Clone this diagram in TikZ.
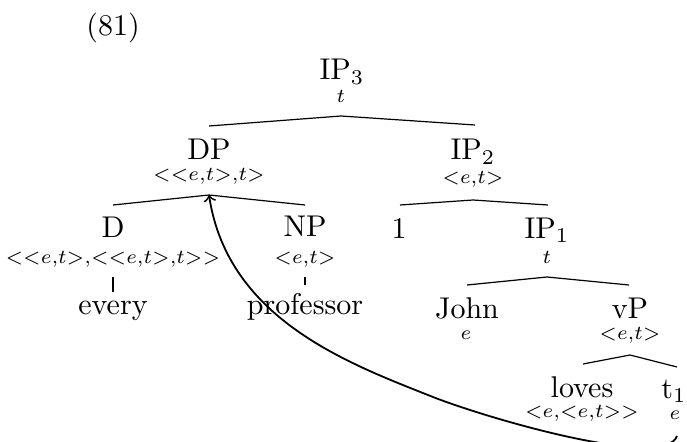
\documentclass[tikz,border=0pt]{standalone}
\usepackage{graphicx}
\begin{document}
\begin{tikzpicture}[x=0.33333pt,y=-0.33333pt,
  lab/.style={anchor=base,inner sep=0pt},
  typ/.style={anchor=base,inner sep=0pt},
  branch/.style={line width=0.4pt},
  move/.style={line width=0.6pt,->}]
\newcommand{\ty}[1]{\scalebox{0.94}{$\scriptstyle#1$}}
\useasboundingbox (0,0) rectangle (687,442);
% labels
\node[lab] (ex) at (113,36) {(81)};
\node[lab] (ip3) at (342,80) {IP$_3$};
\node[typ] (ip3t) at (341,103) {\ty{t}};
\node[lab] (dp) at (209,159) {DP};
\node[typ] (dpt) at (209,180) {\ty{<<e,t>,t>}};
\node[lab] (ip2) at (473,160) {IP$_2$};
\node[typ] (ip2t) at (473,183) {\ty{<e,t>}};
\node[lab] (d) at (113,237) {D};
\node[typ] (dt) at (113,263) {\ty{<<e,t>,<<e,t>,t>>}};
\node[lab] (np) at (305,236) {NP};
\node[typ] (npt) at (305,263) {\ty{<e,t>}};
\node[lab] (every) at (113,314) {every};
\node[lab] (prof) at (305,314) {professor};
\node[lab] (one) at (399,238) {1};
\node[lab] (ip1) at (547,238) {IP$_1$};
\node[typ] (ip1t) at (547,263) {\ty{t}};
\node[lab] (john) at (467,318) {John};
\node[typ] (johnt) at (466,339) {\ty{e}};
\node[lab] (vp) at (630,318) {vP};
\node[typ] (vpt) at (630,339) {\ty{<e,t>}};
\node[lab] (loves) at (582,397) {loves};
\node[typ] (lovest) at (582,417) {\ty{<e,<e,t>>}};
\node[lab] (t1) at (674,398) {t$_1$};
\node[typ] (t1t) at (675,419) {\ty{e}};
% branch points
\coordinate (a3) at (341,116); \coordinate (a3l) at (209,126); \coordinate (a3r) at (475,125);
\coordinate (adp) at (209,195); \coordinate (adpl) at (113,205); \coordinate (adpr) at (305,205);
\coordinate (a2) at (473,200); \coordinate (a2l) at (400,205); \coordinate (a2r) at (548,205);
\coordinate (a1) at (547,277); \coordinate (a1l) at (467,285); \coordinate (a1r) at (629,285);
\coordinate (av) at (630,355); \coordinate (avl) at (583,364); \coordinate (avr) at (677,367);
\coordinate (dtk1) at (113,277); \coordinate (dtk2) at (113,292);
\coordinate (ntk1) at (305,277); \coordinate (ntk2) at (305,285);
\draw[branch] (a3l) -- (a3) -- (a3r);
\draw[branch] (adpl) -- (adp) -- (adpr);
\draw[branch] (a2l) -- (a2) -- (a2r);
\draw[branch] (a1l) -- (a1) -- (a1r);
\draw[branch] (avl) -- (av) -- (avr);
\draw[branch] (dtk1) -- (dtk2);
\draw[branch] (ntk1) -- (ntk2);
% movement arrow
\coordinate (tfoot) at (677,436);
\coordinate (mid) at (433,397);
\draw[move] (tfoot) .. controls (665,470) and (489,419) .. (mid)
  .. controls (350,364) and (228,320) .. (adp);
\end{tikzpicture}
\end{document}
